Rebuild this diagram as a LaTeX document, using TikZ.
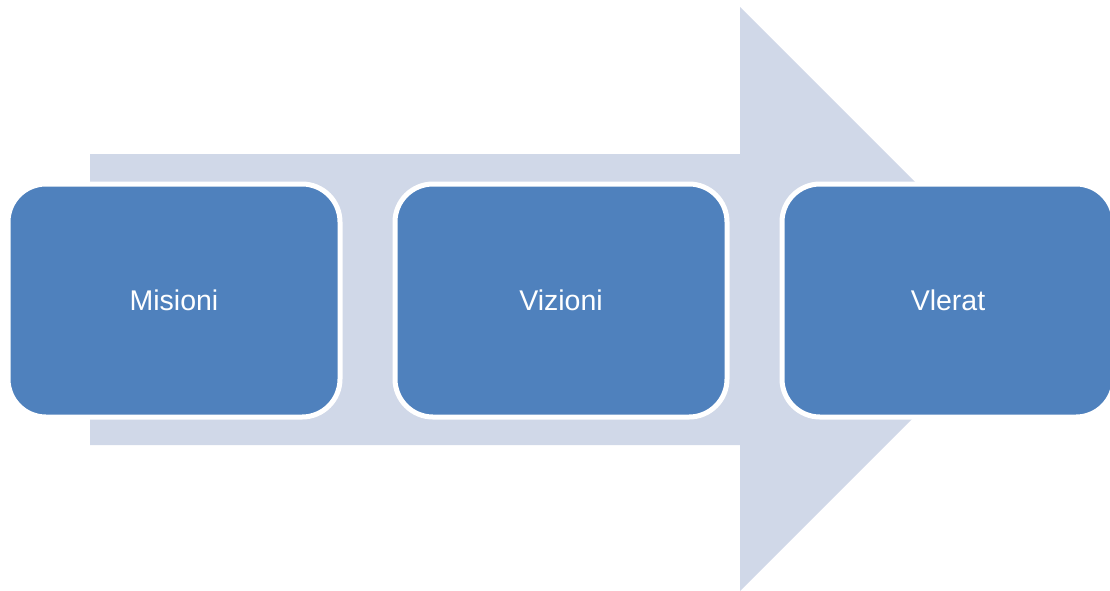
\documentclass[tikz,border=0pt]{standalone}
\usepackage{fontspec}
\setmainfont{Liberation Sans}
\definecolor{arrowfill}{RGB}{208,216,232}
\definecolor{boxfill}{RGB}{79,129,189}
\begin{document}
\begin{tikzpicture}[x=1pt,y=-1pt,
  stagebox/.style={draw=white, line width=5pt, fill=boxfill, rounded corners=38pt,
    minimum width=332pt, minimum height=233pt, inner sep=0pt, text=white,
    font=\fontsize{28.5}{34}\selectfont}]
\useasboundingbox (0,0) rectangle (1110,590);
\clip (0,0) rectangle (1110,590);
\fill[arrowfill] (90,154) -- (740,154) -- (740,7) -- (1032,299) -- (740,591) -- (740,445) -- (90,445) -- cycle;
\node[stagebox] (misioni) at (174,300.5) {Misioni};
\node[stagebox] (vizioni) at (561,300.5) {Vizioni};
\node[stagebox] (vlerat) at (948,300.5) {Vlerat};
\end{tikzpicture}
\end{document}
